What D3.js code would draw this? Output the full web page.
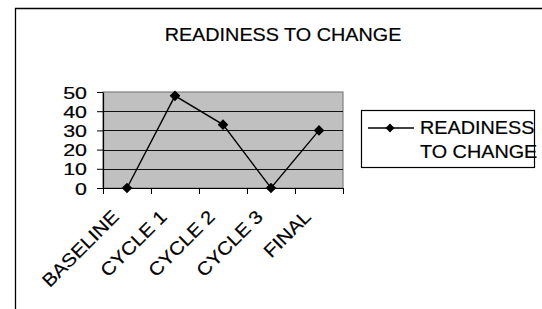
<!DOCTYPE html>
<html>
<head>
<meta charset="utf-8">
<script src="https://cdn.jsdelivr.net/npm/d3@7"></script>
<style>
  body { margin: 0; background: #fff; }
  svg { display: block; font-family: "Liberation Sans", Arial, sans-serif; }
</style>
</head>
<body>
<div id="chart"></div>
<script>
// chart data
var categories = ["BASELINE", "CYCLE 1", "CYCLE 2", "CYCLE 3", "FINAL"];
var readiness = [0, 48, 33, 0, 30];
var yTicks = [0, 10, 20, 30, 40, 50];
var seriesName = ["READINESS", "TO CHANGE"];
var chartTitle = "READINESS TO CHANGE";

window.onload = function(){
    drawChart();
};

function drawChart(){
    var svg = d3.select("#chart").append("svg").attr("width", 542).attr("height", 309);

    // plot area box
    var margin = { top: 92, left: 103, right: 343, bottom: 188 };

    // outer frame (only top and left edges are in view)
    svg.append("path")
        .attr("d", "M15.5,309 V8.5 H542")
        .attr("fill", "none")
        .attr("stroke", "#000")
        .attr("stroke-width", 1.3);

    // title
    svg.append("text")
        .attr("transform", "translate(283,40.5) scale(1.1,1)")
        .attr("text-anchor", "middle")
        .style("font-size", "18px")
        .attr("fill", "#000")
        .attr("stroke", "#000").attr("stroke-width", 0.2)
        .text(chartTitle);

    var xScale = d3.scaleBand()
                   .domain(categories)
                   .range([margin.left, margin.right]);

    var yScale = d3.scaleLinear()
                   .domain([0, 50])
                   .range([margin.bottom, margin.top]);

    // grey plot background
    svg.append("rect")
        .attr("x", margin.left)
        .attr("y", margin.top)
        .attr("width", margin.right - margin.left)
        .attr("height", margin.bottom - margin.top)
        .attr("fill", "#c0c0c0")
        .attr("stroke", "#808080")
        .attr("stroke-width", 1.2);

    // gridlines
    svg.selectAll(".grid")
        .data(yTicks.filter(function(d){ return d > 0 && d < 50; }))
        .enter()
        .append("line")
        .attr("class", "grid")
        .attr("x1", margin.left)
        .attr("x2", margin.right)
        .attr("y1", function(d){ return Math.round(yScale(d)) + 0.5; })
        .attr("y2", function(d){ return Math.round(yScale(d)) + 0.5; })
        .attr("stroke", "#111")
        .attr("stroke-width", 1.1);

    // y axis
    var yAxis = svg.append("g")
        .attr("transform", "translate(" + margin.left + ",0)")
        .call(d3.axisLeft(yScale).tickValues(yTicks).tickSize(6).tickSizeOuter(0));
    yAxis.select(".domain").attr("stroke", "#000").attr("stroke-width", 1.2);
    yAxis.selectAll("line").attr("stroke", "#000");
    yAxis.selectAll("text")
        .attr("x", -12.7)
        .attr("dy", "0.36em")
        .attr("transform", "scale(1.26,1)")
        .style("font-size", "17px")
        .style("font-family", "'Liberation Sans', Arial, sans-serif")
        .attr("fill", "#000")
        .attr("stroke", "#000").attr("stroke-width", 0.2);

    // x axis, ticks sit on the category boundaries
    var bounds = categories.map(function(d){ return xScale(d); }).concat([margin.right]);
    var xAxis = svg.append("g")
        .attr("transform", "translate(0," + margin.bottom + ")");
    xAxis.append("line")
        .attr("x1", margin.left).attr("x2", margin.right)
        .attr("y1", 0.5).attr("y2", 0.5)
        .attr("stroke", "#000").attr("stroke-width", 1.2);
    xAxis.selectAll(".tick")
        .data(bounds)
        .enter()
        .append("line")
        .attr("class", "tick")
        .attr("x1", function(d){ return Math.round(d) + 0.5; })
        .attr("x2", function(d){ return Math.round(d) + 0.5; })
        .attr("y1", 0)
        .attr("y2", 6)
        .attr("stroke", "#000");

    // rotated category labels
    xAxis.selectAll(".label")
        .data(categories)
        .enter()
        .append("text")
        .attr("class", "label")
        .attr("transform", function(d){
            var cx = xScale(d) + xScale.bandwidth() / 2 - 7;
            return "translate(" + cx + ",30) rotate(-45) scale(1.1,1)";
        })
        .attr("text-anchor", "end")
        .style("font-size", "18.5px")
        .attr("fill", "#000")
        .attr("stroke", "#000").attr("stroke-width", 0.2)
        .text(function(d){ return d; });

    // series line
    var line = d3.line()
        .x(function(d, i){ return xScale(categories[i]) + xScale.bandwidth() / 2; })
        .y(function(d){ return yScale(d); });

    svg.append("path")
        .datum(readiness)
        .attr("d", line)
        .attr("fill", "none")
        .attr("stroke", "#000")
        .attr("stroke-width", 1.4);

    var diamond = d3.symbol().type(d3.symbolDiamond2).size(72);

    svg.selectAll(".marker")
        .data(readiness)
        .enter()
        .append("path")
        .attr("class", "marker")
        .attr("d", diamond)
        .attr("transform", function(d, i){
            return "translate(" + (xScale(categories[i]) + xScale.bandwidth() / 2) + "," + yScale(d) + ")";
        })
        .attr("fill", "#000");

    // legend
    var legend = svg.append("g");
    legend.append("rect")
        .attr("x", 361.5).attr("y", 110.5)
        .attr("width", 173).attr("height", 57)
        .attr("fill", "#fff")
        .attr("stroke", "#000").attr("stroke-width", 1.2);
    legend.append("line")
        .attr("x1", 368).attr("x2", 414)
        .attr("y1", 128).attr("y2", 128)
        .attr("stroke", "#000").attr("stroke-width", 1.4);
    legend.append("path")
        .attr("d", d3.symbol().type(d3.symbolDiamond2).size(50))
        .attr("transform", "translate(390,128)")
        .attr("fill", "#000");
    legend.selectAll(".legtext")
        .data(seriesName)
        .enter()
        .append("text")
        .attr("class", "legtext")
        .attr("transform", function(d, i){ return "translate(420," + (134 + i * 23.5) + ") scale(1.1,1)"; })
        .style("font-size", "18px")
        .attr("fill", "#000")
        .attr("stroke", "#000").attr("stroke-width", 0.2)
        .text(function(d){ return d; });
}
</script>
</body>
</html>
